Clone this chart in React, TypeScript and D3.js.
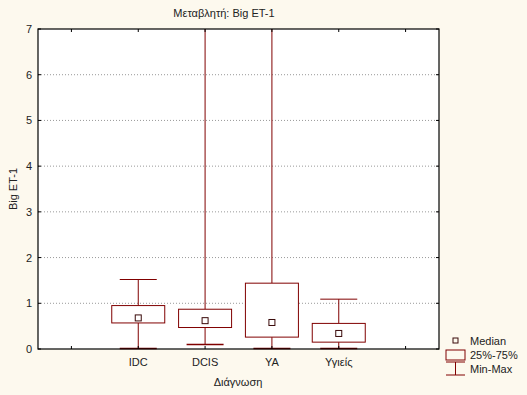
import React from "react";
import * as d3 from "d3";

// categories on the x axis (blank slots at both ends, like the original)
const slots = ["", "IDC", "DCIS", "YA", "Υγιείς", " "];
const groups = ["IDC", "DCIS", "YA", "Υγιείς"];
const mins = [0.01, 0.1, 0.01, 0.01];
const q1s = [0.57, 0.47, 0.26, 0.15];
const medians = [0.68, 0.62, 0.58, 0.34];
const q3s = [0.95, 0.87, 1.44, 0.56];
const maxs = [1.52, 7.5, 7.5, 1.09];
const yTicks = [0, 1, 2, 3, 4, 5, 6, 7];

const W = 527;
const H = 395;
const m = { left: 38, top: 29, right: 439, bottom: 349 };
const boxColor = "#800000";
const font = "Arial, 'Liberation Sans', sans-serif";

export default function App() {
  const x = d3.scalePoint<string>().domain(slots).range([m.left, m.right]).padding(0.5);
  const y = d3.scaleLinear().domain([0, 7]).range([m.bottom, m.top]);
  const clampY = (v: number) => Math.max(m.top, y(v));
  const boxW = 53;
  const capW = 37;
  const med = 6;

  return (
    <svg width={W} height={H} style={{ position: "absolute", left: 0, top: 0 }} fontFamily={font}>
      <rect x={0} y={0} width={W} height={H} fill="#fdf9ee" />
      <rect x={m.left} y={m.top} width={m.right - m.left} height={m.bottom - m.top} fill="#fff" />
      {/* grid */}
      {yTicks.slice(1, -1).map((t) => (
        <line key={"g" + t} x1={m.left} x2={m.right} y1={y(t)} y2={y(t)} stroke="#999" strokeDasharray="1,2" />
      ))}
      {/* boxes */}
      {groups.map((g, i) => {
        const cx = x(g) as number;
        return (
          <g key={g} stroke={boxColor} fill="none" strokeWidth={1}>
            <line x1={cx} x2={cx} y1={clampY(maxs[i])} y2={y(q3s[i])} />
            <line x1={cx} x2={cx} y1={y(q1s[i])} y2={y(mins[i])} />
            {maxs[i] <= 7 && <line x1={cx - capW / 2} x2={cx + capW / 2} y1={y(maxs[i])} y2={y(maxs[i])} />}
            <line x1={cx - capW / 2} x2={cx + capW / 2} y1={y(mins[i])} y2={y(mins[i])} strokeWidth={1.6} />
            <rect x={cx - boxW / 2} y={y(q3s[i])} width={boxW} height={y(q1s[i]) - y(q3s[i])} fill="#fff" />
            <rect x={cx - med / 2} y={y(medians[i]) - med / 2} width={med} height={med} fill="#fff" stroke="#3a0a0a" />
          </g>
        );
      })}
      {/* frame */}
      <rect x={m.left} y={m.top} width={m.right - m.left} height={m.bottom - m.top} fill="none" stroke="#000" strokeWidth={1.2} />
      {/* x ticks */}
      {slots.map((s, i) => {
        const cx = x(s) as number;
        return (
          <g key={"xt" + i} stroke="#000">
            <line x1={cx} x2={cx} y1={m.bottom} y2={m.bottom - 3} />
            <line x1={cx} x2={cx} y1={m.top} y2={m.top + 3} />
          </g>
        );
      })}
      {groups.map((g) => (
        <text key={"xl" + g} x={x(g)} y={366} fontSize={11} textAnchor="middle" fill="#222">
          {g}
        </text>
      ))}
      {/* y ticks */}
      {yTicks.map((t) => (
        <g key={"yt" + t}>
          <line x1={m.left} x2={m.left + 3} y1={y(t)} y2={y(t)} stroke="#000" />
          <line x1={m.right} x2={m.right - 3} y1={y(t)} y2={y(t)} stroke="#000" />
          <text x={32} y={y(t) + 4} fontSize={11} textAnchor="end" fill="#222">
            {t}
          </text>
        </g>
      ))}
      <text x={224} y={17} fontSize={11} textAnchor="middle" fill="#222">
        Μεταβλητή: Big ET-1
      </text>
      <text x={238} y={386} fontSize={11} textAnchor="middle" fill="#222">
        Διάγνωση
      </text>
      <text transform={`translate(17,189) rotate(-90)`} fontSize={11} textAnchor="middle" fill="#222">
        Big ET-1
      </text>
      {/* legend */}
      <g stroke={boxColor} fill="none">
        <rect x={453} y={338} width={5} height={5} stroke="#3a0a0a" />
        <rect x={446} y={350} width={19} height={10} />
        <line x1={446} x2={465} y1={362} y2={362} />
        <line x1={446} x2={465} y1={375} y2={375} />
        <line x1={455.5} x2={455.5} y1={362} y2={375} />
      </g>
      <g fontSize={11} fill="#222">
        <text x={470} y={345}>Median</text>
        <text x={470} y={359}>25%-75%</text>
        <text x={470} y={373}>Min-Max</text>
      </g>
    </svg>
  );
}
